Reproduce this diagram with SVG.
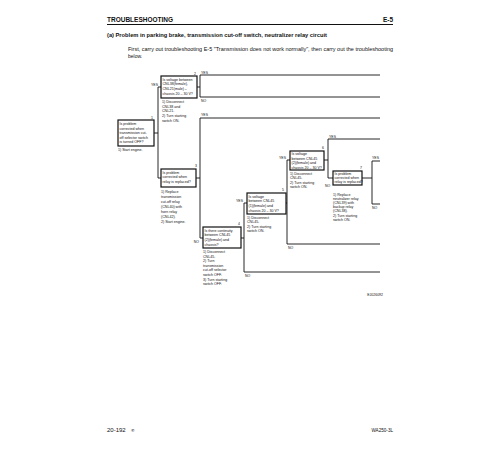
<svg xmlns="http://www.w3.org/2000/svg" width="500" height="450" viewBox="0 0 500 450">
<style>
text{font-family:"Liberation Sans",Arial,sans-serif;fill:#111}
.h{font-weight:bold;font-size:6.5px}
.t{font-weight:bold;font-size:5.5px}
.p{font-size:5px}
.b{font-size:3.6px}
.s{font-size:3.5px}
.n{font-size:3.5px}
.box{fill:#fff;stroke:#111;stroke-width:1.2}
.ln{fill:none;stroke:#111;stroke-width:0.9}
</style>
<rect width="500" height="450" fill="#fff"/>
<g id="header">
<text class="h" x="107" y="22">TROUBLESHOOTING</text>
<text class="h" x="393" y="22" text-anchor="end">E-5</text>
<line x1="107" y1="24.5" x2="393" y2="24.5" stroke="#111" stroke-width="1.1"/>
<text class="t" x="107" y="37" textLength="220" lengthAdjust="spacingAndGlyphs">(a)  Problem in parking brake, transmission cut-off switch, neutralizer relay circuit</text>
<text class="p" x="128" y="51" textLength="265" lengthAdjust="spacingAndGlyphs">First, carry out troubleshooting E-5 "Transmission does not work normally", then carry out the troubleshooting</text>
<text class="p" x="128" y="58">below.</text>
</g>
<g id="connectors">
<polyline class="ln" points="154,133 158,133"/>
<polyline class="ln" points="161,87 158,87 158,178 161,178"/>
<polyline class="ln" points="197,87 200,87"/>
<polyline class="ln" points="380,75 200,75 200,97 380,97"/>
<polyline class="ln" points="196,178 200,178"/>
<polyline class="ln" points="380,118 200,118 200,238 203,238"/>
<polyline class="ln" points="241,238 244,238"/>
<polyline class="ln" points="247,203 244,203 244,272 380,272"/>
<polyline class="ln" points="286,203 287,203"/>
<polyline class="ln" points="290,160 287,160 287,244 380,244"/>
<polyline class="ln" points="324,160 328,160"/>
<polyline class="ln" points="380,139 328,139 328,178 333,178"/>
<polyline class="ln" points="362,178 372,178"/>
<polyline class="ln" points="380,161 372,161 372,204 380,204"/>
<text class="s" x="158" y="85.5" text-anchor="end">YES</text>
<text class="s" x="201" y="73.5">YES</text>
<text class="s" x="201" y="102">NO</text>
<text class="s" x="201" y="116">YES</text>
<text class="s" x="199" y="242.5" text-anchor="end">NO</text>
<text class="s" x="243" y="201.5" text-anchor="end">YES</text>
<text class="s" x="245" y="276.5">NO</text>
<text class="s" x="286" y="158.5" text-anchor="end">YES</text>
<text class="s" x="288" y="248.5">NO</text>
<text class="s" x="329" y="137.5">YES</text>
<text class="s" x="325" y="186.5">NO</text>
<text class="s" x="372" y="159">YES</text>
<text class="s" x="372" y="208.5">NO</text>
</g>
<g id="node1">
<rect class="box" x="118" y="120" width="36" height="26"/>
<text class="n" x="153" y="118.5" text-anchor="end">1</text>
<text class="b" x="119.5" y="125">Is problem</text>
<text class="b" x="119.5" y="129.6">corrected when</text>
<text class="b" x="119.5" y="134.2">transmission cut-</text>
<text class="b" x="119.5" y="138.8">off selector switch</text>
<text class="b" x="119.5" y="143.4">is turned OFF?</text>
<text class="b" x="118" y="151">1) Start engine.</text>
</g>
<g id="node2">
<rect class="box" x="161" y="76" width="36" height="22"/>
<text class="n" x="196" y="74.5" text-anchor="end">2</text>
<text class="b" x="162.5" y="80.5">Is voltage between</text>
<text class="b" x="162.5" y="85.2">CNL38(female),</text>
<text class="b" x="162.5" y="89.9">CNL21(male) –</text>
<text class="b" x="162.5" y="94.6">chassis 20 – 30 V?</text>
<text class="b" x="162" y="103">1) Disconnect</text>
<text class="b" x="162" y="107.5">    CNL38 and</text>
<text class="b" x="162" y="112">    CNL21.</text>
<text class="b" x="162" y="117">2) Turn starting</text>
<text class="b" x="162" y="121.5">    switch ON.</text>
</g>
<g id="node3">
<rect class="box" x="161" y="169" width="35" height="18"/>
<text class="n" x="197" y="167" text-anchor="end">3</text>
<text class="b" x="162.5" y="173.5">Is problem</text>
<text class="b" x="162.5" y="178.2">corrected when</text>
<text class="b" x="162.5" y="182.9">relay is replaced?</text>
<text class="b" x="161" y="193">1) Replace</text>
<text class="b" x="161" y="198">    transmission</text>
<text class="b" x="161" y="203">    cut-off relay</text>
<text class="b" x="161" y="208">    (CNL40) with</text>
<text class="b" x="161" y="213">    horn relay</text>
<text class="b" x="161" y="218">    (CNL42).</text>
<text class="b" x="161" y="223">2) Start engine.</text>
</g>
<g id="node4">
<rect class="box" x="203" y="227" width="38" height="21"/>
<text class="n" x="240" y="225" text-anchor="end">4</text>
<text class="b" x="204.5" y="231.5">Is there continuity</text>
<text class="b" x="204.5" y="236.2">between CNL45</text>
<text class="b" x="204.5" y="240.9">(2)(female) and</text>
<text class="b" x="204.5" y="245.6">chassis?</text>
<text class="b" x="203" y="253">1) Disconnect</text>
<text class="b" x="203" y="257.5">    CNL45.</text>
<text class="b" x="203" y="262">2) Turn</text>
<text class="b" x="203" y="266.5">    transmission</text>
<text class="b" x="203" y="271">    cut-off selector</text>
<text class="b" x="203" y="275.5">    switch OFF.</text>
<text class="b" x="203" y="280.5">3) Turn starting</text>
<text class="b" x="203" y="285">    switch OFF.</text>
</g>
<g id="node5">
<rect class="box" x="247" y="193" width="39" height="21"/>
<text class="n" x="284" y="191" text-anchor="end">5</text>
<text class="b" x="248.5" y="197.5">Is voltage</text>
<text class="b" x="248.5" y="202.2">between CNL45</text>
<text class="b" x="248.5" y="206.9">(1)(female) and</text>
<text class="b" x="248.5" y="211.6">chassis 20 – 30 V?</text>
<text class="b" x="247" y="218.5">1) Disconnect</text>
<text class="b" x="247" y="223">    CNL45.</text>
<text class="b" x="247" y="227.5">2) Turn starting</text>
<text class="b" x="247" y="232">    switch ON.</text>
</g>
<g id="node6">
<rect class="box" x="290" y="151" width="34" height="19"/>
<text class="n" x="324" y="149" text-anchor="end">6</text>
<text class="b" x="291.5" y="155.3">Is voltage</text>
<text class="b" x="291.5" y="159.7">between CNL45</text>
<text class="b" x="291.5" y="164.1">(2)(female) and</text>
<text class="b" x="291.5" y="168.5">chassis 20 – 30 V?</text>
<text class="b" x="290" y="174.5">1) Disconnect</text>
<text class="b" x="290" y="179">    CNL45.</text>
<text class="b" x="290" y="183.5">2) Turn starting</text>
<text class="b" x="290" y="188">    switch ON.</text>
</g>
<g id="node7">
<rect class="box" x="333" y="171" width="29" height="14"/>
<text class="n" x="362" y="169" text-anchor="end">7</text>
<text class="b" x="334.5" y="175">Is problem</text>
<text class="b" x="334.5" y="179">corrected when</text>
<text class="b" x="334.5" y="183">relay is replaced?</text>
<text class="b" x="333" y="196">1) Replace</text>
<text class="b" x="333" y="200">    neutralizer relay</text>
<text class="b" x="333" y="204">    (CNL39) with</text>
<text class="b" x="333" y="208">    backup relay</text>
<text class="b" x="333" y="212">    (CNL38).</text>
<text class="b" x="333" y="217">2) Turn starting</text>
<text class="b" x="333" y="221">    switch ON.</text>
</g>
<g id="footer">
<text class="s" x="383" y="295.5" text-anchor="end">EJ026092</text>
<text style="font-size:6px" x="107" y="432">20-192</text>
<text style="font-size:3.5px" x="131" y="432">⑥</text>
<text style="font-size:4.6px" x="393" y="432" text-anchor="end">WA250-3L</text>
</g>
</svg>
